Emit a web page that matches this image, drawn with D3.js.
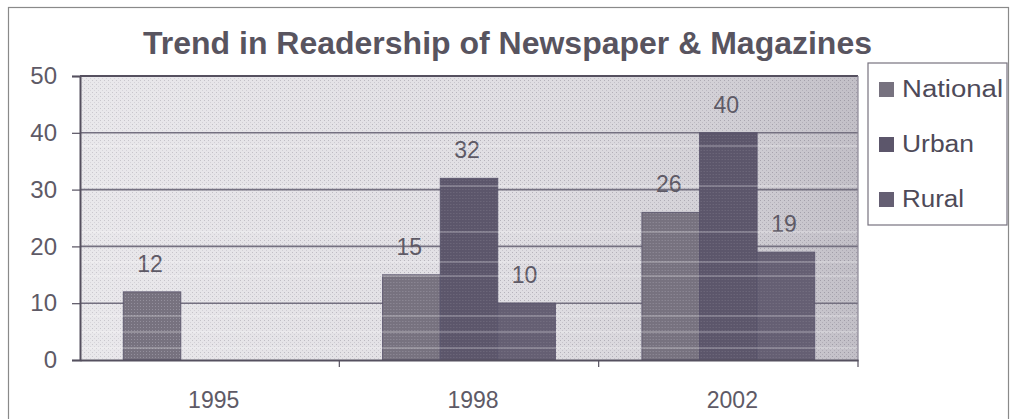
<!DOCTYPE html>
<html>
<head>
<meta charset="utf-8">
<script src="https://cdn.jsdelivr.net/npm/d3@7"></script>
<style>
  html, body { margin: 0; padding: 0; background: #fff; }
  svg { display: block; }
  text { font-family: "Liberation Sans", Arial, sans-serif; }
</style>
</head>
<body>
<svg id="chart" width="1013" height="419"></svg>
<script>
// Readership data (values per year)
const years = ["1995", "1998", "2002"];
const seriesNames = ["National", "Urban", "Rural"];
const national = [12, 15, 26];
const urban = [0, 32, 40];
const rural = [0, 10, 19];
const yTicks = [0, 10, 20, 30, 40, 50];
const titleText = "Trend in Readership of Newspaper & Magazines";

const seriesValues = [national, urban, rural];
const seriesFill = ["#77727f", "#5c566b", "#655f73"];
const legendWidths = [101, 72, 62];

const svg = d3.select("#chart");
const plot = { left: 80, right: 858, top: 76, bottom: 360 };

// textures for the plot area and bars
const defs = svg.append("defs");
const bgPat = defs.append("pattern").attr("id", "bgPat")
  .attr("width", 4).attr("height", 4).attr("patternUnits", "userSpaceOnUse");
bgPat.append("rect").attr("width", 4).attr("height", 4).attr("fill", "#dedce1");
bgPat.append("rect").attr("x", 0).attr("y", 0).attr("width", 1).attr("height", 1).attr("fill", "#aeabb4");
bgPat.append("rect").attr("x", 2).attr("y", 2).attr("width", 1).attr("height", 1).attr("fill", "#c2bfc7");

const grad = defs.append("linearGradient").attr("id", "bgGrad")
  .attr("x1", "0").attr("y1", "0").attr("x2", "1").attr("y2", "0");
grad.append("stop").attr("offset", "0").attr("stop-color", "#ffffff").attr("stop-opacity", 0.35);
grad.append("stop").attr("offset", "0.5").attr("stop-color", "#ffffff").attr("stop-opacity", 0.1);
grad.append("stop").attr("offset", "1").attr("stop-color", "#6d6878").attr("stop-opacity", 0.25);

seriesFill.forEach((c, i) => {
  const p = defs.append("pattern").attr("id", "barPat" + i)
    .attr("width", 3).attr("height", 3).attr("patternUnits", "userSpaceOnUse");
  p.append("rect").attr("width", 3).attr("height", 3).attr("fill", c);
  p.append("rect").attr("width", 1).attr("height", 1).attr("fill", "#9a96a4").attr("opacity", i === 0 ? 0.8 : 0.35);
});

// outer frame
svg.append("rect").attr("x", 8.5).attr("y", 7.5).attr("width", 1000).attr("height", 420)
  .attr("fill", "none").attr("stroke", "#8a8a8a").attr("stroke-width", 1.2);

// title
svg.append("text").attr("x", 143).attr("y", 54)
  .attr("font-size", 31).attr("font-weight", "bold").attr("fill", "#58545f")
  .attr("textLength", 729).attr("lengthAdjust", "spacingAndGlyphs")
  .text(titleText);

const x0 = d3.scaleBand().domain(years).range([plot.left, plot.right]);
// each group holds 3 bars with 0.75 bar width of gap on either side
const x1 = d3.scaleBand().domain(seriesNames)
  .range([x0.bandwidth() * 0.75 / 4.5, x0.bandwidth() * (1 - 0.75 / 4.5)]);
const y = d3.scaleLinear().domain([0, 50]).range([plot.bottom, plot.top]);

// plot background
svg.append("rect").attr("x", plot.left).attr("y", plot.top)
  .attr("width", plot.right - plot.left).attr("height", plot.bottom - plot.top)
  .attr("fill", "url(#bgPat)");
svg.append("rect").attr("x", plot.left).attr("y", plot.top)
  .attr("width", plot.right - plot.left).attr("height", plot.bottom - plot.top)
  .attr("fill", "url(#bgGrad)");

// gridlines
svg.append("g").selectAll("line").data(yTicks.filter(t => t > 0 && t < 50)).join("line")
  .attr("x1", plot.left).attr("x2", plot.right)
  .attr("y1", d => y(d)).attr("y2", d => y(d))
  .attr("stroke", "#747080").attr("stroke-width", 1.6);

// bars
const groups = svg.append("g").selectAll("g").data(years).join("g")
  .attr("transform", d => `translate(${x0(d)},0)`);
groups.each(function(yr, yi) {
  const g = d3.select(this);
  seriesNames.forEach((s, si) => {
    const v = seriesValues[si][yi];
    if (!v) return;
    g.append("rect")
      .attr("x", x1(s)).attr("width", x1.bandwidth())
      .attr("y", y(v)).attr("height", y(0) - y(v))
      .attr("fill", "url(#barPat" + si + ")")
      .attr("stroke", "#57526a").attr("stroke-width", 0.8);
    g.append("text")
      .attr("x", x1(s) + x1.bandwidth() / 2 - 2).attr("y", y(v) - 20)
      .attr("text-anchor", "middle").attr("font-size", 23).attr("fill", "#5e5a66")
      .text(v);
  });
});

// scan-like light streaks across the plot
const streaks = [146, 186, 232, 262, 276, 316, 332, 348];
svg.append("g").selectAll("line").data(streaks).join("line")
  .attr("x1", plot.left).attr("x2", plot.right)
  .attr("y1", d => d).attr("y2", d => d)
  .attr("stroke", "#ffffff").attr("stroke-opacity", 0.45).attr("stroke-width", 1.2);

// plot border: top and right
svg.append("line").attr("x1", plot.left).attr("x2", plot.right)
  .attr("y1", plot.top).attr("y2", plot.top).attr("stroke", "#55505f").attr("stroke-width", 2);
svg.append("line").attr("x1", plot.right).attr("x2", plot.right)
  .attr("y1", plot.top).attr("y2", plot.bottom).attr("stroke", "#8a8694").attr("stroke-width", 1.2);

// y axis
const yAxis = svg.append("g").attr("transform", `translate(${plot.left},0)`)
  .call(d3.axisLeft(y).tickValues(yTicks).tickSize(8).tickPadding(15));
yAxis.select(".domain").attr("stroke", "#55505f").attr("stroke-width", 2);
yAxis.selectAll(".tick line").attr("stroke", "#55505f").attr("stroke-width", 1.2);
yAxis.selectAll(".tick text").attr("font-size", 24).attr("fill", "#5e5a66")
  .attr("font-family", "Liberation Sans, Arial, sans-serif");

// x axis
const xAxis = svg.append("g").attr("transform", `translate(0,${plot.bottom})`)
  .call(d3.axisBottom(x0).tickSize(0).tickPadding(32));
xAxis.select(".domain").attr("stroke", "#55505f").attr("stroke-width", 2);
xAxis.selectAll(".tick text").attr("font-size", 23).attr("fill", "#5e5a66")
  .attr("dx", 4)
  .attr("font-family", "Liberation Sans, Arial, sans-serif");
// category boundary ticks
svg.append("g").selectAll("line").data(years).join("line")
  .attr("x1", d => x0(d) + x0.bandwidth()).attr("x2", d => x0(d) + x0.bandwidth())
  .attr("y1", plot.bottom).attr("y2", plot.bottom + 7)
  .attr("stroke", "#55505f").attr("stroke-width", 1.2);

// legend
const legend = svg.append("g");
legend.append("rect").attr("x", 868).attr("y", 63).attr("width", 139).attr("height", 162)
  .attr("fill", "#fff").attr("stroke", "#77727f").attr("stroke-width", 1.2);
const ly = d3.scalePoint().domain(seriesNames).range([97, 207]);
seriesNames.forEach((s, i) => {
  legend.append("rect").attr("x", 879).attr("y", ly(s) - 15).attr("width", 15).attr("height", 15)
    .attr("fill", seriesFill[i]);
  legend.append("text").attr("x", 902).attr("y", ly(s))
    .attr("font-size", 23).attr("fill", "#4e4a58")
    .attr("textLength", legendWidths[i]).attr("lengthAdjust", "spacingAndGlyphs")
    .text(s);
});
</script>
</body>
</html>
